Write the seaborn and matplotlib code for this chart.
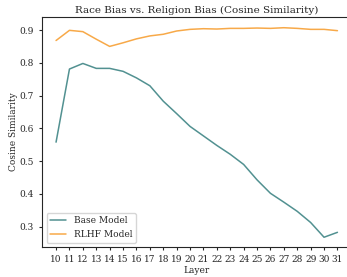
import numpy as np
import pandas as pd
import matplotlib
matplotlib.use("Agg")
import matplotlib.pyplot as plt
import seaborn as sns

# Values
layers = list(range(10, 32))
base_model = [0.558, 0.781, 0.798, 0.783, 0.783, 0.774, 0.754, 0.730, 0.683, 0.645,
              0.606, 0.577, 0.548, 0.521, 0.490, 0.443, 0.402, 0.375, 0.347, 0.313,
              0.268, 0.283]
rlhf_model = [0.868, 0.899, 0.895, 0.872, 0.850, 0.861, 0.873, 0.882, 0.887, 0.897,
              0.902, 0.904, 0.903, 0.905, 0.905, 0.906, 0.905, 0.907, 0.905, 0.902,
              0.902, 0.898]

df = pd.DataFrame({
    "Layer": layers * 2,
    "Cosine Similarity": base_model + rlhf_model,
    "Model": ["Base Model"] * len(layers) + ["RLHF Model"] * len(layers),
})

sns.set_style("ticks")
plt.rcParams["font.family"] = ["DejaVu Serif"]

fig = plt.figure(figsize=(3.47, 2.77), dpi=100)
ax = fig.add_axes([0.121, 0.108, 0.892, 0.831])

sns.lineplot(data=df, x="Layer", y="Cosine Similarity", hue="Model",
             palette=["#3f8585", "#f7a035"], linewidth=1.1, alpha=0.9, ax=ax)

ax.set_xticks(layers)
ax.set_xticklabels([str(l) for l in layers])
ax.set_yticks([0.3, 0.4, 0.5, 0.6, 0.7, 0.8, 0.9])
ax.set_ylim(0.238, 0.94)
ax.tick_params(labelsize=6.5, length=2.5, width=0.8)
ax.set_xlabel("Layer", fontsize=6.5, labelpad=1)
ax.set_ylabel("Cosine Similarity", fontsize=6.5, labelpad=0.5)
ax.set_title("Race Bias vs. Religion Bias (Cosine Similarity)", fontsize=7.5, pad=3)
leg = ax.legend(loc="lower left", fontsize=6.5, frameon=True, handlelength=1.8)
leg.set_title(None)

fig.savefig("out.png", dpi=100)
